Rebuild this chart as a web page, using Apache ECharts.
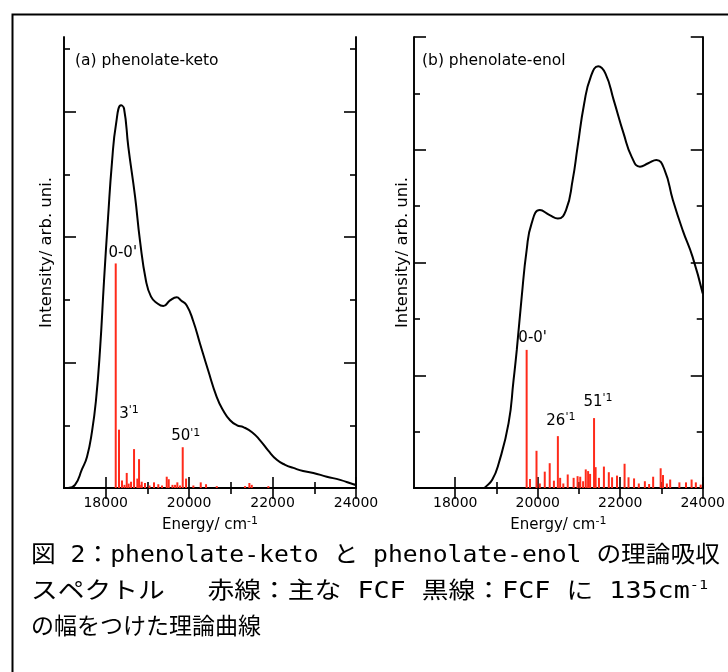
<!DOCTYPE html>
<html>
<head>
<meta charset="utf-8">
<script src="https://cdn.jsdelivr.net/npm/echarts@6/dist/echarts.min.js"></script>
<style>
html,body{margin:0;padding:0;background:#fff;}
#chart{width:728px;height:672px;}
</style>
</head>
<body>
<div id="chart"></div>
<script>
// ---- data ----
const ketoCurveE = [17100,17264,17432,17552,17671,17767,17863,17959,18055,18151,18247,18367,18439,18542,18703,18822,18966,19086,19223,19381,19542,19703,19806,19942,20093,20261,20453,20662,20813,20981,21149,21300,21508,21700,21892,22101,22300,22499,22731,22978,23299,23618,23937,24000];
const ketoCurveI = [0.0,0.05,0.3,0.5,0.9,1.4,2.2,3.3,4.3,5.2,5.8,6.1,6.05,5.44,4.65,3.94,3.3,3.05,2.95,2.9,2.99,3.04,2.99,2.91,2.67,2.3,1.88,1.45,1.24,1.08,1.0,0.97,0.89,0.76,0.6,0.45,0.37,0.32,0.27,0.24,0.18,0.13,0.06,0.05];

const ketoStickE = [18240,18319,18391,18450,18504,18550,18607,18679,18758,18799,18850,18863,18942,19050,19158,19261,19350,19463,19511,19600,19662,19717,19780,19846,19926,20101,20278,20405,20662,21340,21444,21501,21899];
const ketoStickI = [3.58,0.93,0.12,0.05,0.24,0.07,0.10,0.62,0.15,0.46,0.05,0.10,0.08,0.04,0.09,0.06,0.04,0.18,0.14,0.05,0.05,0.09,0.04,0.65,0.15,0.04,0.09,0.06,0.03,0.03,0.08,0.05,0.03];

const enolCurveE = [18700,18737,18900,19055,19293,19413,19492,19611,19731,19850,20051,20290,20488,20686,20846,20966,21126,21283,21467,21642,21842,22081,22280,22478,22679,22877,23076,23276,23515,23754,24000];
const enolCurveI = [0.0,0.02,0.15,0.44,1.15,1.91,2.45,3.39,4.22,4.69,4.93,4.84,4.78,4.93,5.46,6.05,6.82,7.29,7.48,7.35,6.88,6.29,5.87,5.70,5.76,5.82,5.64,5.11,4.57,4.10,3.45];

const enolStickE = [19731,19812,19970,20050,20170,20290,20392,20488,20543,20620,20727,20870,20966,21030,21100,21164,21221,21269,21365,21403,21484,21604,21723,21802,21921,22105,22201,22335,22450,22597,22700,22798,22980,23037,23130,23211,23434,23594,23730,23833,23950];
const enolStickI = [2.45,0.16,0.66,0.08,0.29,0.44,0.13,0.92,0.18,0.08,0.24,0.18,0.21,0.20,0.12,0.33,0.30,0.25,1.24,0.37,0.18,0.38,0.28,0.19,0.22,0.43,0.19,0.17,0.08,0.12,0.07,0.20,0.35,0.23,0.08,0.15,0.10,0.10,0.15,0.10,0.06];

// labelled transitions: [energy, text]
const ketoLabels = [[18240, "0-0'"], [18319, "3{s|'1}"], [19846, "50{s|'1}"]];
const enolLabels = [[19731, "0-0'"], [20488, "26{s|'1}"], [21365, "51{s|'1}"]];

const xMajor = [18000, 20000, 22000, 24000];
const xMinor = [19000, 21000, 23000];
const ketoYMajor = [2, 4, 6];
const ketoYMinor = [1, 3, 5, 7];
const enolYMajor = [2, 4, 6, 8];
const enolYMinor = [1, 3, 5, 7];

const panelTitles = ["(a) phenolate-keto", "(b) phenolate-enol"];
const xName = "Energy/ cm{s|-1}";
const yName = "Intensity/ arb. uni.";
const captionLines = ["図 2：phenolate-keto と phenolate-enol の理論吸収", "スペクトル　 赤線：主な FCF 黒線：FCF に 135cm", "の幅をつけた理論曲線"];
const captionSup = "-1";

// ---- helpers ----
const FONT = "DejaVu Sans";
const RED = "#ff2a1a";
const grids = [
  {left: 64, top: 37, width: 292, height: 451},
  {left: 414, top: 37, width: 293, height: 451}
];
const yMax = [7.19, 8];

function xAxes(gi) {
  const base = {gridIndex: gi, type: 'value', min: 17000, max: 24000,
    axisLine: {show: true, lineStyle: {color: '#000', width: 1.6}},
    splitLine: {show: false}};
  return [
    Object.assign({}, base, {position: 'bottom',
      axisTick: {show: true, inside: true, length: 11, customValues: xMajor, lineStyle: {color: '#000', width: 1.6}},
      axisLabel: {show: true, customValues: xMajor, color: '#000', fontSize: 14, fontFamily: FONT, margin: 8, formatter: v => String(v)},
      name: xName, nameLocation: 'middle', nameGap: 28,
      nameTextStyle: {color: '#000', fontSize: 15, fontFamily: FONT, rich: {s: {fontSize: 11, fontFamily: FONT, color: '#000', padding: [0, 0, 8, 0]}}}}),
    Object.assign({}, base, {position: 'bottom',
      axisTick: {show: true, inside: true, length: 6, customValues: xMinor, lineStyle: {color: '#000', width: 1.6}},
      axisLabel: {show: false}}),
    Object.assign({}, base, {position: 'top',
      axisTick: {show: true, inside: true, length: 11, customValues: xMajor, lineStyle: {color: '#000', width: 1.6}},
      axisLabel: {show: false}}),
    Object.assign({}, base, {position: 'top',
      axisTick: {show: true, inside: true, length: 6, customValues: xMinor, lineStyle: {color: '#000', width: 1.6}},
      axisLabel: {show: false}})
  ];
}
function yAxes(gi, maj, min, nameGap) {
  const base = {gridIndex: gi, type: 'value', min: 0, max: yMax[gi],
    axisLine: {show: true, lineStyle: {color: '#000', width: 1.6}},
    splitLine: {show: false}, axisLabel: {show: false}};
  return [
    Object.assign({}, base, {position: 'left',
      axisTick: {show: true, inside: true, length: 12, customValues: maj, lineStyle: {color: '#000', width: 1.6}},
      name: yName, nameLocation: 'middle', nameGap: nameGap, nameRotate: 90,
      nameTextStyle: {color: '#000', fontSize: 16.5, fontFamily: FONT, padding: [0, 0, 0, 20]}}),
    Object.assign({}, base, {position: 'left',
      axisTick: {show: true, inside: true, length: 6, customValues: min, lineStyle: {color: '#000', width: 1.6}}}),
    Object.assign({}, base, {position: 'right',
      axisTick: {show: true, inside: true, length: 12, customValues: maj, lineStyle: {color: '#000', width: 1.6}}}),
    Object.assign({}, base, {position: 'right',
      axisTick: {show: true, inside: true, length: 6, customValues: min, lineStyle: {color: '#000', width: 1.6}}})
  ];
}
function zip(a, b) { return a.map((v, i) => [v, b[i]]); }
function stickData(E, I, labels, offs) {
  return E.map((e, i) => {
    const lab = labels.findIndex(l => l[0] === e);
    if (lab < 0) return [e, I[i]];
    return {value: [e, I[i]], label: {show: true, position: 'top', formatter: labels[lab][1],
      offset: [offs[lab][0], 0], distance: offs[lab][1]}};
  });
}
const labelRich = {s: {fontSize: 11, fontFamily: FONT, color: '#000', padding: [0, 0, 7, 0]}};

const option = {
  animation: false,
  backgroundColor: '#fff',
  title: [
    {text: panelTitles[0], left: 70, top: 48, textStyle: {fontSize: 15.5, fontWeight: 'normal', color: '#000', fontFamily: FONT}},
    {text: panelTitles[1], left: 417, top: 48, textStyle: {fontSize: 15.5, fontWeight: 'normal', color: '#000', fontFamily: FONT}}
  ],
  grid: grids,
  xAxis: xAxes(0).concat(xAxes(1)),
  yAxis: yAxes(0, ketoYMajor, ketoYMinor, 9).concat(yAxes(1, enolYMajor, enolYMinor, 3)),
  series: [
    {type: 'bar', xAxisIndex: 0, yAxisIndex: 0, barWidth: 2, itemStyle: {color: RED},
     label: {color: '#000', fontSize: 15, fontFamily: FONT, rich: labelRich},
     data: stickData(ketoStickE, ketoStickI, ketoLabels, [[7, 3], [10, 7], [3, 2]]), z: 2},
    {type: 'line', xAxisIndex: 0, yAxisIndex: 0, showSymbol: false, symbol: 'none', smooth: 0.5,
     lineStyle: {color: '#000', width: 2}, data: zip(ketoCurveE, ketoCurveI), z: 3},
    {type: 'bar', xAxisIndex: 4, yAxisIndex: 4, barWidth: 2, itemStyle: {color: RED},
     label: {color: '#000', fontSize: 15, fontFamily: FONT, rich: labelRich},
     data: stickData(enolStickE, enolStickI, enolLabels, [[6, 4], [3, 6], [4, 7]]), z: 2},
    {type: 'line', xAxisIndex: 4, yAxisIndex: 4, showSymbol: false, symbol: 'none', smooth: 0.5,
     lineStyle: {color: '#000', width: 2}, data: zip(enolCurveE, enolCurveI), z: 3}
  ]
};

// caption (fit lines 1 and 2 to the justified width of the original)
const CAP_FONT = "'DejaVu Sans Mono', 'Noto Sans CJK JP'";
const CAP_SIZE = 23;
const cv = document.createElement('canvas').getContext('2d');
function measure(t, size) { cv.font = size + "px " + CAP_FONT; return cv.measureText(t).width; }
const w1 = measure(captionLines[0], CAP_SIZE);
const w2 = measure(captionLines[1], CAP_SIZE) + measure(captionSup, 13);
const capX = 31;
const sc1 = (720 - capX) / w1;
const sc2 = (708 - capX) / w2;
option.graphic = [
  {type: 'rect', left: 10, top: 12, shape: {width: 760, height: 700}, style: {fill: 'none', stroke: '#000', lineWidth: 2}, silent: true},
  {type: 'text', x: capX, y: 556, scaleX: sc1, style: {text: captionLines[0], fontSize: CAP_SIZE, fontFamily: CAP_FONT, fill: '#000', verticalAlign: 'middle', align: 'left'}},
  {type: 'text', x: capX, y: 592, scaleX: sc2, style: {text: captionLines[1] + '{s|' + captionSup + '}', fontSize: CAP_SIZE, fontFamily: CAP_FONT, fill: '#000', verticalAlign: 'middle', align: 'left',
    rich: {s: {fontSize: 13, fontFamily: CAP_FONT, fill: '#000', padding: [0, 0, 12, 0]}}}},
  {type: 'text', x: capX, y: 628, style: {text: captionLines[2], fontSize: CAP_SIZE, fontFamily: CAP_FONT, fill: '#000', verticalAlign: 'middle', align: 'left'}}
];

const chart = echarts.init(document.getElementById('chart'), null, {renderer: 'canvas'});
chart.setOption(option);
</script>
</body>
</html>
